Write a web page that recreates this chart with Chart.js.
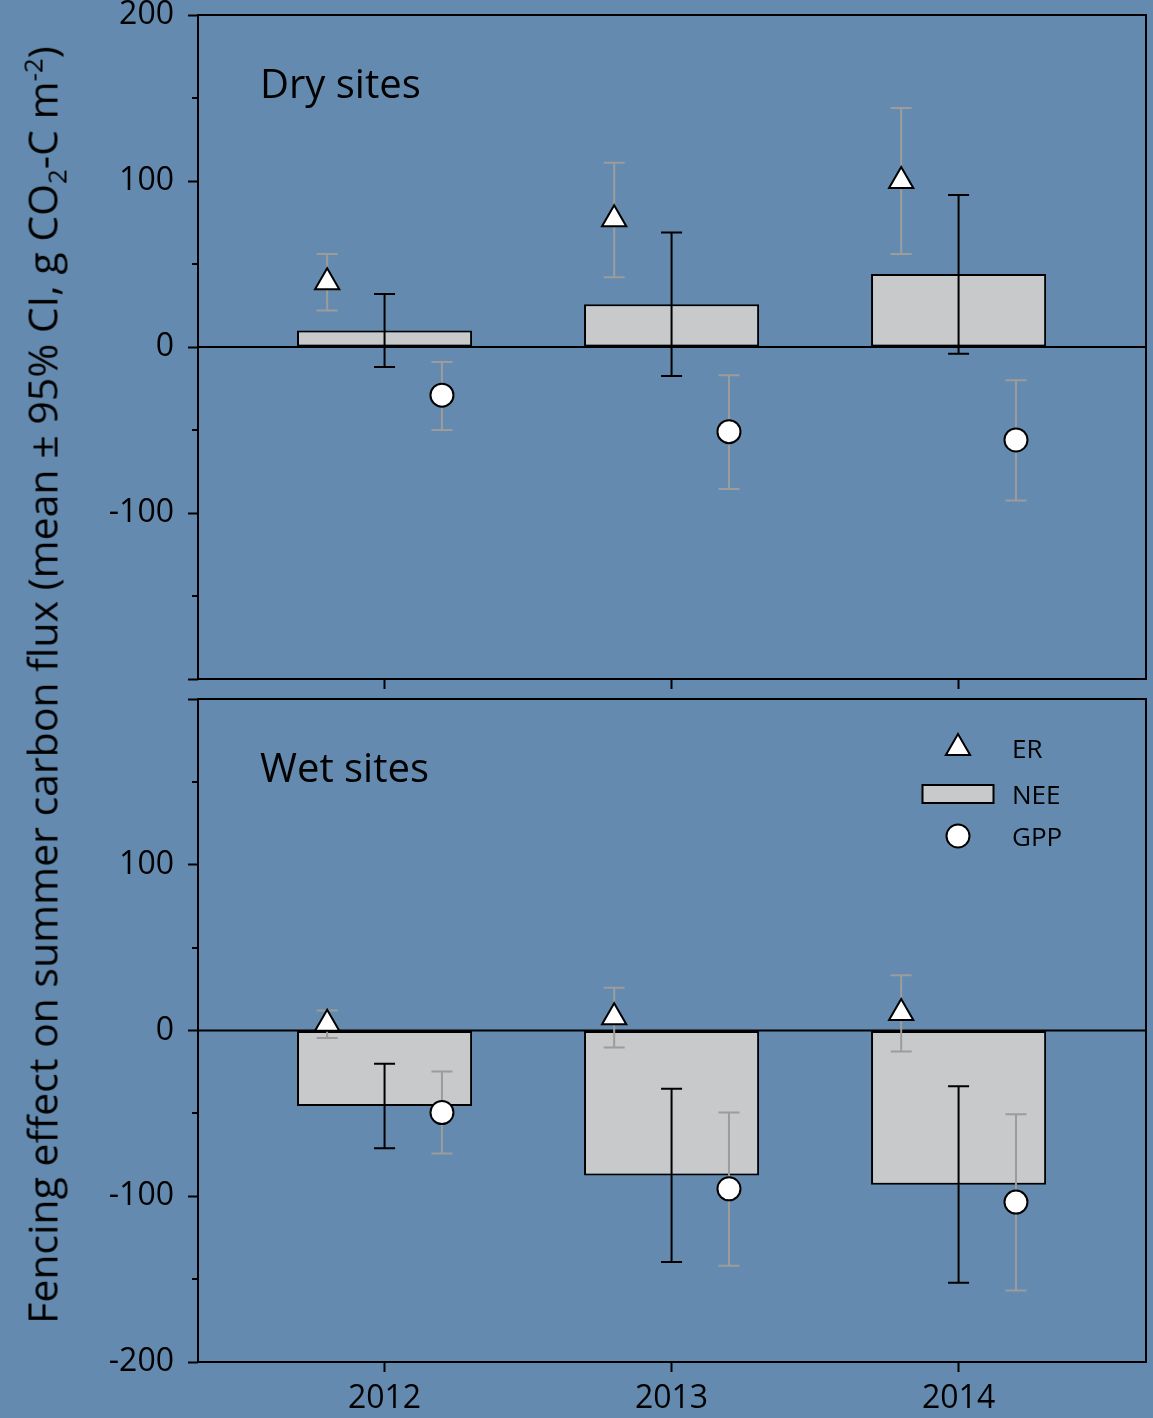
<!DOCTYPE html>
<html>
<head>
<meta charset="utf-8">
<title>Fencing effect on summer carbon flux</title>
<script src="https://cdn.jsdelivr.net/npm/chart.js@4"></script>
<style>
  html, body { margin: 0; padding: 0; background: #648baf; }
  #wrap { position: relative; width: 1153px; height: 1418px; overflow: hidden; }
  #wrap canvas { position: absolute; left: 0; top: 0; }
  #ytitle {
    position: absolute; left: 42px; top: 685px;
    transform: translate(-50%, -50%) rotate(-90deg);
    white-space: nowrap; font-family: 'Open Sans', sans-serif;
    font-size: 41px; line-height: 1; color: #000;
  }
  #ytitle sub, #ytitle sup { font-size: 26px; line-height: 0; }
</style>
</head>
<body>
<div id="wrap">
  <canvas id="dry" width="1153" height="1418"></canvas>
  <canvas id="wet" width="1153" height="1418"></canvas>
  <div id="ytitle">Fencing effect on summer carbon flux (mean ± 95% CI, g CO<sub>2</sub>-C m<sup>-2</sup>)</div>
</div>
<script>
// Years and horizontal offsets of the point series around each bar
const years = [2012, 2013, 2014];
const offsetER = -0.2;
const offsetGPP = 0.2;

// Dry sites: means and 95% CI bounds
const dryER = [39, 77, 100];
const dryERLow = [22, 42, 56];
const dryERHigh = [56, 111, 144];
const dryNEE = [10, 25.7, 44];
const dryNEELow = [-12, -17.5, -4];
const dryNEEHigh = [32, 69, 91.5];
const dryGPP = [-29, -51, -56];
const dryGPPLow = [-50, -85.5, -92.5];
const dryGPPHigh = [-9, -17, -20];

// Wet sites: means and 95% CI bounds
const wetER = [4, 8, 10.5];
const wetERLow = [-4.5, -10.3, -12.7];
const wetERHigh = [12, 25.8, 33.4];
const wetNEE = [-45.5, -87.5, -93];
const wetNEELow = [-71, -139.7, -152.2];
const wetNEEHigh = [-20, -35.2, -33.6];
const wetGPP = [-49.5, -95.5, -103.5];
const wetGPPLow = [-74.2, -142, -156.8];
const wetGPPHigh = [-24.7, -49.5, -50.5];

// Axis ticks
const yTicks = [-200, -100, 0, 100, 200];
const yMinorTicks = [-150, -50, 50, 150];
const seriesNames = ['ER', 'NEE', 'GPP'];

const FONT = "'Open Sans', sans-serif";
const BAR_FILL = '#c8c9cb';
const CI_GREY = '#9c9c9c';
const CAP = 10.5;

Chart.defaults.font.family = FONT;
Chart.defaults.color = '#000';

function buildDatasets(er, erLo, erHi, nee, neeLo, neeHi, gpp, gppLo, gppHi) {
  return [
    {
      type: 'scatter', label: seriesNames[0], order: 0,
      data: years.map((yr, i) => ({ x: yr + offsetER, y: er[i] })),
      ciLow: erLo, ciHigh: erHi, ciColor: CI_GREY,
      pointStyle: 'triangle', pointRadius: 14, pointHoverRadius: 14,
      pointBackgroundColor: '#fff', pointBorderColor: '#000', pointBorderWidth: 2
    },
    {
      type: 'bar', label: seriesNames[1], order: 2,
      data: years.map((yr, i) => ({ x: yr, y: nee[i] })),
      ciLow: neeLo, ciHigh: neeHi, ciColor: '#000',
      backgroundColor: BAR_FILL, borderColor: '#000', borderWidth: 2,
      borderSkipped: false, barPercentage: 1, categoryPercentage: 0.61
    },
    {
      type: 'scatter', label: seriesNames[2], order: 1,
      data: years.map((yr, i) => ({ x: yr + offsetGPP, y: gpp[i] })),
      ciLow: gppLo, ciHigh: gppHi, ciColor: CI_GREY,
      pointStyle: 'circle', pointRadius: 11.5, pointHoverRadius: 11.5,
      pointBackgroundColor: '#fff', pointBorderColor: '#000', pointBorderWidth: 2
    }
  ];
}

// Zero line and confidence-interval whiskers, drawn right after the bars
const whiskers = {
  id: 'whiskers',
  afterDatasetDraw(chart, args) {
    if (chart.data.datasets[args.index].type !== 'bar') return;
    const ctx = chart.ctx, ca = chart.chartArea, ys = chart.scales.y;
    ctx.save();
    ctx.lineWidth = 2;
    ctx.strokeStyle = '#000';
    const y0 = ys.getPixelForValue(0);
    ctx.beginPath();
    ctx.moveTo(ca.left, y0);
    ctx.lineTo(ca.right, y0);
    ctx.stroke();
    chart.data.datasets.forEach((ds, di) => {
      const meta = chart.getDatasetMeta(di);
      ctx.strokeStyle = ds.ciColor;
      meta.data.forEach((el, i) => {
        const x = el.x;
        const yl = ys.getPixelForValue(ds.ciLow[i]);
        const yh = ys.getPixelForValue(ds.ciHigh[i]);
        ctx.beginPath();
        ctx.moveTo(x, yl); ctx.lineTo(x, yh);
        ctx.moveTo(x - CAP, yl); ctx.lineTo(x + CAP, yl);
        ctx.moveTo(x - CAP, yh); ctx.lineTo(x + CAP, yh);
        ctx.stroke();
      });
    });
    ctx.restore();
  }
};

// Frame, minor ticks, panel title and (optionally) the legend
const panelDecor = {
  id: 'panelDecor',
  afterDraw(chart, args, opts) {
    const ctx = chart.ctx, ca = chart.chartArea, ys = chart.scales.y;
    ctx.save();
    ctx.strokeStyle = '#000';
    ctx.lineWidth = 2;
    ctx.strokeRect(ca.left, ca.top, ca.right - ca.left, ca.bottom - ca.top);
    ctx.beginPath();
    yMinorTicks.forEach(v => {
      const y = Math.round(ys.getPixelForValue(v));
      ctx.moveTo(ca.left - 6, y);
      ctx.lineTo(ca.left, y);
    });
    ctx.stroke();

    ctx.fillStyle = '#000';
    ctx.font = '40px ' + FONT;
    ctx.textBaseline = 'alphabetic';
    ctx.textAlign = 'left';
    ctx.fillText(opts.title, ca.left + 62, ca.top + 83);

    if (opts.legend) {
      const sx = ca.left + 760, tx = ca.left + 814;
      const rows = [ca.top + 49, ca.top + 95, ca.top + 137];
      const dsets = chart.data.datasets;
      ctx.font = '26px ' + FONT;
      ctx.textBaseline = 'middle';
      dsets.forEach((ds, i) => {
        const y = rows[i];
        if (ds.type === 'bar') {
          ctx.fillStyle = ds.backgroundColor;
          ctx.fillRect(sx - 35.5, y - 9, 71, 18);
          ctx.lineWidth = 2;
          ctx.strokeStyle = ds.borderColor;
          ctx.strokeRect(sx - 35.5, y - 9, 71, 18);
        } else {
          ctx.fillStyle = ds.pointBackgroundColor;
          ctx.strokeStyle = ds.pointBorderColor;
          ctx.lineWidth = ds.pointBorderWidth;
          Chart.helpers.drawPoint(ctx, { pointStyle: ds.pointStyle, radius: ds.pointRadius, rotation: 0, borderWidth: ds.pointBorderWidth }, sx, y);
        }
        ctx.fillStyle = '#000';
        ctx.fillText(ds.label, tx, y + 3);
      });
    }
    ctx.restore();
  }
};

function panelOptions(cfg) {
  return {
    responsive: false,
    animation: false,
    layout: { autoPadding: false, padding: { top: cfg.top, right: 7, bottom: cfg.bottom, left: 0 } },
    plugins: {
      legend: { display: false },
      tooltip: { enabled: false },
      panelDecor: { title: cfg.title, legend: cfg.legend }
    },
    scales: {
      x: {
        type: 'linear', min: 2011.35, max: 2014.653, offset: false,
        afterBuildTicks: s => { s.ticks = years.map(v => ({ value: v })); },
        afterFit: s => { s.height = cfg.xHeight; s.paddingLeft = 0; s.paddingRight = 0; },
        ticks: {
          padding: 8, font: { size: 32 },
          callback: v => cfg.xLabels ? String(v) : ''
        },
        grid: { offset: false, drawOnChartArea: false, drawTicks: true, tickLength: 10, tickWidth: 2, tickColor: '#000' },
        border: { display: false }
      },
      y: {
        type: 'linear', min: -200, max: 200,
        afterBuildTicks: s => { s.ticks = yTicks.map(v => ({ value: v })); },
        afterFit: s => { s.width = 198; s.paddingTop = 0; s.paddingBottom = 0; },
        ticks: {
          padding: 14, font: { size: 32 },
          callback: v => cfg.hideY.includes(v) ? '' : String(v)
        },
        grid: { drawOnChartArea: false, drawTicks: true, tickLength: 10, tickWidth: 2, tickColor: '#000' },
        border: { display: false }
      }
    }
  };
}

new Chart(document.getElementById('dry'), {
  type: 'bar',
  data: { datasets: buildDatasets(dryER, dryERLow, dryERHigh, dryNEE, dryNEELow, dryNEEHigh, dryGPP, dryGPPLow, dryGPPHigh) },
  options: panelOptions({ title: 'Dry sites', legend: false, top: 15, bottom: 1418 - 679 - 20, xHeight: 20, xLabels: false, hideY: [-200] }),
  plugins: [whiskers, panelDecor]
});

new Chart(document.getElementById('wet'), {
  type: 'bar',
  data: { datasets: buildDatasets(wetER, wetERLow, wetERHigh, wetNEE, wetNEELow, wetNEEHigh, wetGPP, wetGPPLow, wetGPPHigh) },
  options: panelOptions({ title: 'Wet sites', legend: true, top: 699, bottom: 0, xHeight: 56, xLabels: true, hideY: [200] }),
  plugins: [whiskers, panelDecor]
});
</script>
</body>
</html>
